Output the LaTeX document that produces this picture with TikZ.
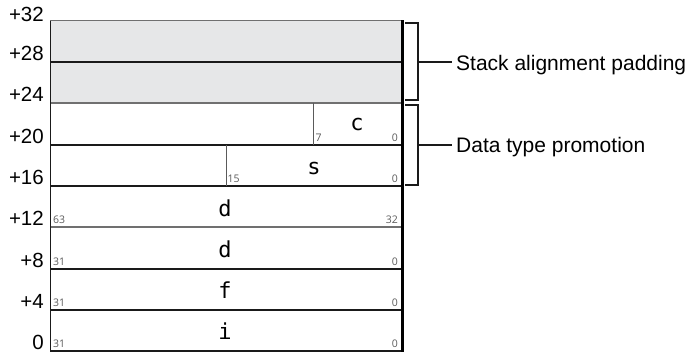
\documentclass[tikz,border=0pt]{standalone}
\usepackage{fontspec}
\setmainfont{Liberation Sans}
\newfontfamily\monof{DejaVu Sans Mono}
\newfontfamily\smallf{Open Sans}
\definecolor{padgray}{HTML}{E6E7E8}
\definecolor{bitgray}{HTML}{5A5A5A}
\definecolor{lightline}{HTML}{707070}
\definecolor{darkline}{HTML}{1A1A1A}
\begin{document}
\begin{tikzpicture}[x=1pt,y=-1pt,
  offs/.style={anchor=base east, inner sep=0pt, font=\fontsize{20.5}{24}\selectfont},
  field/.style={anchor=base, inner sep=0pt, font=\monof\fontsize{22}{24}\selectfont},
  bitL/.style={anchor=base west, inner sep=0pt, text=bitgray, font=\smallf\fontsize{10.5}{12}\selectfont},
  bitR/.style={anchor=base east, inner sep=0pt, text=bitgray, font=\smallf\fontsize{10.5}{12}\selectfont},
  heavy/.style={draw=darkline, line width=2pt},
  light/.style={draw=lightline, line width=1.6pt},
  divider/.style={draw=bitgray, line width=1pt},
  brace/.style={draw=darkline, line width=1.5pt},
  note/.style={anchor=base west, inner sep=0pt, font=\fontsize{21}{24}\selectfont}]
\useasboundingbox (0,0) rectangle (689,355);
% padding rows
\fill[padgray] (50,21) rectangle (402,103);
% horizontal lines
\draw[draw=lightline, line width=1pt] (50,21) -- (402,21);
\draw[heavy] (50,62) -- (402,62);
\draw[light] (50,103) -- (402,103);
\draw[draw=darkline, line width=1.6pt] (50,145) -- (402,145);
\draw[heavy] (50,186) -- (402,186);
\draw[light] (50,227) -- (402,227);
\draw[heavy] (50,269) -- (402,269);
\draw[heavy] (50,310) -- (402,310);
\draw[heavy] (50,351) -- (402,351);
% borders
\draw[draw=darkline, line width=1pt] (50,21) -- (50,352);
\draw[draw=black, line width=3pt] (402.5,20.5) -- (402.5,352);
% dividers
\draw[divider] (313,103) -- (313,145);
\draw[divider] (226,145) -- (226,186);
% offsets
\node[offs] (o32) at (44,22) {+32};
\node[offs] (o28) at (44,60.5) {+28};
\node[offs] (o24) at (44,101.5) {+24};
\node[offs] (o20) at (44,143.5) {+20};
\node[offs] (o16) at (44,184.5) {+16};
\node[offs] (o12) at (44,225.5) {+12};
\node[offs] (o8) at (44,267.5) {+8};
\node[offs] (o4) at (44,308.5) {+4};
\node[offs] (o0) at (44,350) {0};
% fields
\node[field] (fc) at (357,131) {c};
\node[field] (fs) at (314,175) {s};
\node[field] (fd1) at (225,217) {d};
\node[field] (fd2) at (225,258) {d};
\node[field] (ff) at (225,299) {f};
\node[field] (fi) at (225,340) {i};
% bit numbers
\node[bitL] (b7) at (315.5,141.5) {7};
\node[bitR] (b0c) at (398,141.5) {0};
\node[bitL] (b15) at (227.5,182.5) {15};
\node[bitR] (b0s) at (398,182.5) {0};
\node[bitL] (b63) at (53,224) {63};
\node[bitR] (b32) at (398,224) {32};
\node[bitL] (b31a) at (53,265.5) {31};
\node[bitR] (b0d) at (398,265.5) {0};
\node[bitL] (b31b) at (53,306.5) {31};
\node[bitR] (b0f) at (398,306.5) {0};
\node[bitL] (b31c) at (53,348) {31};
\node[bitR] (b0i) at (398,348) {0};
% notes
\node[note] (pad) at (456,71) {Stack alignment padding};
\node[note] (promo) at (456,153) {Data type promotion};
% brackets
\coordinate (br1) at (418,62);
\coordinate (br2) at (418,145);
\draw[brace] (405,23) -- (418,23) -- (418,100) -- (405,100);
\draw[brace] (405,105) -- (418,105) -- (418,185) -- (405,185);
\draw[brace] (br1) -- ([xshift=-4pt]pad.west |- br1);
\draw[brace] (br2) -- ([xshift=-4pt]promo.west |- br2);
\end{tikzpicture}
\end{document}
